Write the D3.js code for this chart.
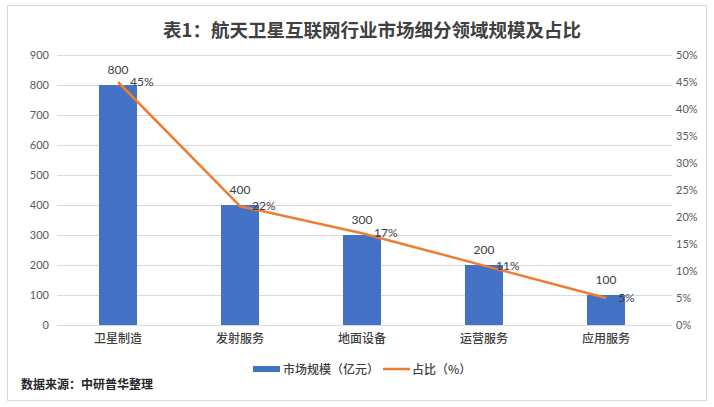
<!DOCTYPE html>
<html><head><meta charset="utf-8">
<script src="https://cdn.jsdelivr.net/npm/d3@7/dist/d3.min.js"></script>
<style>body{margin:0;background:#fff;} svg{display:block;}</style>
</head><body>
<script>
const categories = ["卫星制造","发射服务","地面设备","运营服务","应用服务"];
const marketSize = [800,400,300,200,100];
const share = [45,22,17,11,5];
const leftTicks = [0,100,200,300,400,500,600,700,800,900];
const rightTicks = [0,5,10,15,20,25,30,35,40,45,50];
const title = "表1：航天卫星互联网行业市场细分领域规模及占比";
const seriesNames = ["市场规模（亿元）","占比（%）"];
const source = "数据来源：中研普华整理";

const W=714,H=407;
const cjk = "'Noto Sans CJK SC','Noto Sans',sans-serif";
const num = "Lato,'Noto Sans',sans-serif";
const svg = d3.select("body").append("svg").attr("width",W).attr("height",H);
svg.append("rect").attr("x",7.5).attr("y",5.5).attr("width",699).attr("height",395)
  .attr("fill","#fff").attr("stroke","#d9d9d9");

const m={l:57,r:667,t:55,b:325};
const x=d3.scaleBand().domain(categories).range([m.l,m.r]);
const yL=d3.scaleLinear().domain([0,900]).range([m.b,m.t]);
const yR=d3.scaleLinear().domain([0,50]).range([m.b,m.t]);

svg.append("text").attr("x",372).attr("y",37).attr("text-anchor","middle")
  .attr("font-family",cjk).attr("font-size",18.5).attr("font-weight","bold").attr("fill","#404040").text(title);

// grid
svg.append("g").selectAll("line").data(leftTicks).join("line")
  .attr("x1",m.l).attr("x2",m.r+5).attr("y1",d=>Math.round(yL(d))+0.5).attr("y2",d=>Math.round(yL(d))+0.5)
  .attr("stroke","#d9d9d9");

const axL=d3.axisLeft(yL).tickValues(leftTicks).tickSize(0).tickPadding(8);
svg.append("g").attr("transform",`translate(${m.l},0)`).call(axL)
  .call(g=>g.select(".domain").remove())
  .selectAll("text").attr("font-family",num).attr("font-size",11).attr("fill","#595959");
const axR=d3.axisRight(yR).tickValues(rightTicks).tickFormat(d=>d+"%").tickSize(0).tickPadding(9);
svg.append("g").attr("transform",`translate(${m.r},0)`).call(axR)
  .call(g=>g.select(".domain").remove())
  .selectAll("text").attr("font-family",num).attr("font-size",11).attr("fill","#595959");
const axB=d3.axisBottom(x).tickSize(0).tickPadding(9);
svg.append("g").attr("transform",`translate(0,${m.b})`).call(axB)
  .call(g=>g.select(".domain").remove())
  .selectAll("text").attr("font-family",cjk).attr("font-size",12).attr("font-weight",500).attr("fill","#404040");

const bw=38;
svg.append("g").selectAll("rect").data(categories).join("rect")
  .attr("x",d=>x(d)+x.bandwidth()/2-bw/2).attr("width",bw)
  .attr("y",(d,i)=>yL(marketSize[i])).attr("height",(d,i)=>m.b-yL(marketSize[i]))
  .attr("fill","#4472C4");

const line=d3.line().x((d,i)=>x(categories[i])+x.bandwidth()/2).y(d=>yR(d));
svg.append("path").datum(share).attr("d",line).attr("fill","none")
  .attr("stroke","#ED7D31").attr("stroke-width",2.5).attr("stroke-linejoin","round");

svg.append("g").selectAll("text").data(categories).join("text")
  .attr("x",d=>x(d)+x.bandwidth()/2).attr("y",(d,i)=>yL(marketSize[i])-11)
  .attr("text-anchor","middle").attr("font-family",num).attr("font-size",12).attr("fill","#404040")
  .text((d,i)=>marketSize[i]);
svg.append("g").selectAll("text").data(categories).join("text")
  .attr("x",d=>x(d)+x.bandwidth()/2+12).attr("y",(d,i)=>yR(share[i])+4)
  .attr("font-family",num).attr("font-size",12).attr("fill","#404040")
  .text((d,i)=>share[i]+"%");

// legend
const lg=svg.append("g");
lg.append("rect").attr("x",253).attr("y",366).attr("width",27).attr("height",6).attr("fill","#4472C4");
lg.append("text").attr("x",283).attr("y",374).attr("font-family",cjk).attr("font-size",12).attr("font-weight",500).attr("fill","#404040").text(seriesNames[0]);
lg.append("line").attr("x1",383).attr("x2",410).attr("y1",369).attr("y2",369).attr("stroke","#ED7D31").attr("stroke-width",2.5);
lg.append("text").attr("x",412).attr("y",374).attr("font-family",cjk).attr("font-size",12).attr("font-weight",500).attr("fill","#404040").text(seriesNames[1]);

svg.append("text").attr("x",21).attr("y",389).attr("font-family",cjk).attr("font-size",12).attr("font-weight","bold").attr("fill","#262626").text(source);
</script>
</body></html>
